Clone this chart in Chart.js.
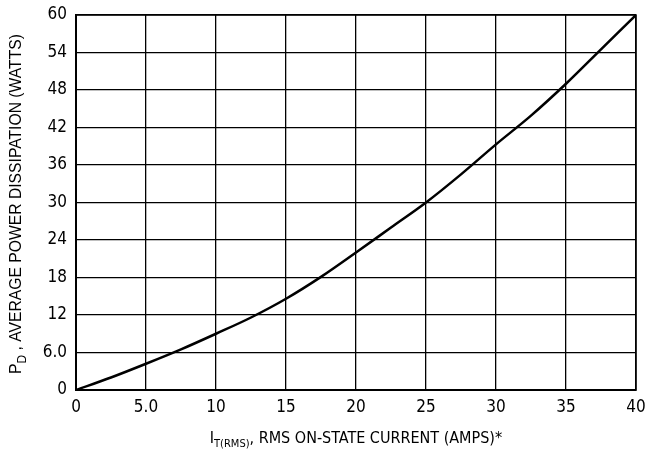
<!DOCTYPE html>
<html>
<head>
<meta charset="utf-8">
<script src="https://cdn.jsdelivr.net/npm/chart.js@4"></script>
<style>
  html, body { margin: 0; padding: 0; background: #fff; }
  #wrap { width: 648px; height: 458px; }
</style>
</head>
<body>
<div id="wrap"><canvas id="c" width="648" height="458"></canvas></div>
<script>
// current (A) and dissipation (W)
const current = [0, 2.5, 5, 7.5, 10, 12.5, 15, 17.5, 20, 22.5, 25, 27.5, 30, 32.5, 35, 37.5, 40];
const power   = [0, 2.0, 4.2, 6.5, 9.0, 11.6, 14.6, 18.1, 22.0, 26.0, 30.0, 34.5, 39.3, 43.9, 49.0, 54.5, 60];
const xTickLabels = ['0', '5.0', '10', '15', '20', '25', '30', '35', '40'];
const yTickLabels = ['0', '6.0', '12', '18', '24', '30', '36', '42', '48', '54', '60'];

const FONT = '"Liberation Sans Narrow", "DejaVu Sans Condensed", "Liberation Sans", sans-serif';
const FONT_Y = '"Liberation Sans", Arial, sans-serif';

// axis titles with subscripts
const axisTitles = {
  id: 'axisTitles',
  afterDraw(chart) {
    const ctx = chart.ctx;
    const area = chart.chartArea;
    ctx.save();
    ctx.fillStyle = '#000';
    ctx.textBaseline = 'alphabetic';

    // x title
    const big = '16px ' + FONT, small = '11px ' + FONT;
    const parts = [['I', big, 0], ['T(RMS)', small, 4], [', RMS ON-STATE CURRENT (AMPS)*', big, 0]];
    let w = 0;
    parts.forEach(p => { ctx.font = p[1]; w += ctx.measureText(p[0]).width; });
    let x = (area.left + area.right) / 2 - w / 2;
    const y = 443;
    parts.forEach(p => { ctx.font = p[1]; ctx.fillText(p[0], x, y + p[2]); x += ctx.measureText(p[0]).width; });

    // y title, rotated
    const bigY = '15.7px ' + FONT_Y, smallY = '12px ' + FONT_Y;
    ctx.translate(21, 204);
    ctx.rotate(-Math.PI / 2);
    const yparts = [['P', bigY, 0], ['D', smallY, 5], [' , AVERAGE POWER DISSIPATION (WATTS)', bigY, 0]];
    w = 0;
    yparts.forEach(p => { ctx.font = p[1]; w += ctx.measureText(p[0]).width; });
    x = -w / 2;
    yparts.forEach(p => { ctx.font = p[1]; ctx.fillText(p[0], x, p[2]); x += ctx.measureText(p[0]).width; });
    ctx.restore();
  }
};

new Chart(document.getElementById('c'), {
  type: 'line',
  data: {
    datasets: [{
      data: current.map((c, i) => ({ x: c, y: power[i] })),
      borderColor: '#000',
      borderWidth: 2.5,
      pointRadius: 0,
      fill: false,
      cubicInterpolationMode: 'monotone'
    }]
  },
  options: {
    responsive: false,
    animation: false,
    layout: { padding: { top: 15, right: 12, left: 0, bottom: 0 } },
    plugins: { legend: { display: false }, tooltip: { enabled: false } },
    scales: {
      x: {
        type: 'linear', min: 0, max: 40,
        afterFit: s => { s.height = 68; s.paddingLeft = 0; s.paddingRight = 0; },
        grid: { color: '#000', lineWidth: 1.3, drawTicks: false },
        border: { color: '#000', width: 2 },
        ticks: {
          stepSize: 5, padding: 7, color: '#000', maxRotation: 0,
          font: { family: FONT, size: 17 },
          callback: (v) => xTickLabels[v / 5]
        }
      },
      y: {
        type: 'linear', min: 0, max: 60,
        afterFit: s => { s.width = 76; s.paddingTop = 0; s.paddingBottom = 0; },
        grid: { color: '#000', lineWidth: 1.3, drawTicks: false },
        border: { color: '#000', width: 2 },
        ticks: {
          stepSize: 6, padding: 9, color: '#000',
          font: { family: FONT, size: 17 },
          callback: (v) => yTickLabels[v / 6]
        }
      }
    }
  },
  plugins: [axisTitles, {
    id: 'frame',
    afterDraw(chart) {
      const { ctx, chartArea: a } = chart;
      ctx.save();
      ctx.strokeStyle = '#000';
      ctx.lineWidth = 1.5;
      ctx.strokeRect(a.left, a.top, a.right - a.left, a.bottom - a.top);
      ctx.restore();
    }
  }]
});
</script>
</body>
</html>
